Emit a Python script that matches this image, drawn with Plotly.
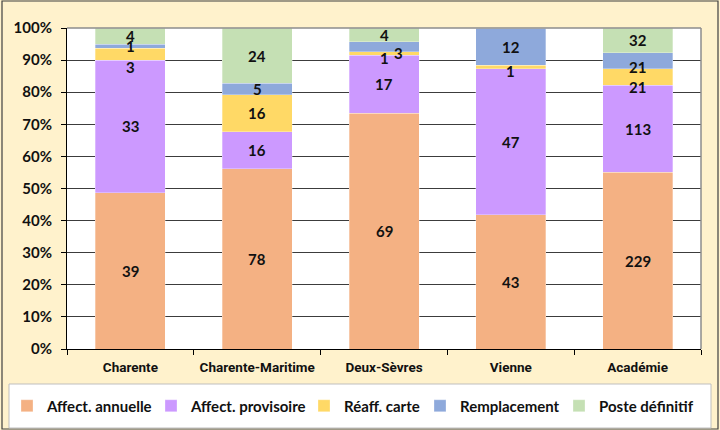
import numpy as np
import plotly.graph_objects as go

categories = ["Charente", "Charente-Maritime", "Deux-Sèvres", "Vienne", "Académie"]
series_names = ["Affect. annuelle", "Affect. provisoire", "Réaff. carte", "Remplacement", "Poste définitif"]
affect_annuelle = [39, 78, 69, 43, 229]
affect_provisoire = [33, 16, 17, 47, 113]
reaff_carte = [3, 16, 1, 1, 21]
remplacement = [1, 5, 3, 12, 21]
poste_definitif = [4, 24, 4, 0, 32]
y_ticks = [0, 10, 20, 30, 40, 50, 60, 70, 80, 90, 100]

colors = ["#F4B183", "#CC99FF", "#FFD966", "#8EA9DB", "#C5E0B4"]
# label pixel nudges (style only): (category index, series index) -> (xshift, yshift)
nudges = {(0, 2): (0, -13), (2, 2): (0, -4), (2, 3): (14, -6), (3, 2): (0, -4),
          (4, 2): (0, -10), (4, 3): (0, -6)}
# left pixel position of each legend entry's text (style only)
legend_text_px = [48, 192, 345, 461, 600]

values = [affect_annuelle, affect_provisoire, reaff_carte, remplacement, poste_definitif]
arr = np.array(values, dtype=float)
pct = arr / arr.sum(axis=0) * 100
cum = np.cumsum(pct, axis=0)

L, R, T, B = 67, 19, 28, 81
W, H = 720, 430
pw, ph = W - L - R, H - T - B


def px_x(x):
    return (x - L) / pw


def px_y(y):
    return (H - B - y) / ph


legend_font = dict(family="Lato, Carlito, sans-serif", size=15, color="#111", weight="bold")

fig = go.Figure()
legend_layouts = {}
for i, (name, vals, col) in enumerate(zip(series_names, values, colors)):
    lg = "legend" if i == 0 else f"legend{i + 1}"
    fig.add_trace(go.Bar(
        x=categories, y=vals, name=name, legend=lg,
        marker=dict(color=col, line=dict(color="rgba(255,255,255,0.6)", width=0.5)),
        hoverinfo="name+y",
    ))
    legend_layouts[lg] = dict(
        x=px_x(legend_text_px[i] - 41), xanchor="left", y=px_y(406), yanchor="middle",
        orientation="h", bgcolor="rgba(0,0,0,0)", borderwidth=0, itemwidth=30, font=legend_font,
    )

annotations = []
for s in range(len(values)):
    for c in range(len(categories)):
        v = values[s][c]
        if v <= 0:
            continue
        center = cum[s, c] - pct[s, c] / 2
        dx, dy = nudges.get((c, s), (0, 0))
        annotations.append(dict(
            x=categories[c], y=center, xref="x", yref="y", text=str(v),
            showarrow=False, xshift=dx, yshift=dy,
            font=dict(family="Lato, Carlito, sans-serif", size=15, color="#111", weight="bold"),
        ))

shapes = [
    dict(type="rect", xref="paper", yref="paper", x0=px_x(2), x1=px_x(718), y0=px_y(429), y1=px_y(1),
         line=dict(color="#404040", width=1.2), fillcolor="rgba(0,0,0,0)", layer="below"),
    dict(type="rect", xref="paper", yref="paper", x0=px_x(9), x1=px_x(711), y0=px_y(428), y1=px_y(384),
         line=dict(color="#BFBFBF", width=1), fillcolor="white", layer="below"),
    dict(type="line", xref="paper", yref="paper", x0=0, x1=1, y0=1, y1=1,
         line=dict(color="#8C8C8C", width=1.5)),
    dict(type="line", xref="paper", yref="paper", x0=1, x1=1, y0=0, y1=1,
         line=dict(color="#8C8C8C", width=1.5)),
]

fig.update_layout(
    width=W, height=H,
    margin=dict(l=L, r=R, t=T, b=B, pad=0, autoexpand=False),
    barmode="stack", barnorm="percent", bargap=0.448,
    paper_bgcolor="#FFF2CC", plot_bgcolor="white",
    showlegend=True,
    annotations=annotations,
    shapes=shapes,
    xaxis=dict(showline=True, linecolor="black", linewidth=1, ticks="outside", tickson="boundaries",
               ticklen=5, tickcolor="black", showgrid=False, ticklabelstandoff=6,
               tickfont=dict(family="Liberation Sans Narrow, Arial Narrow, Roboto, sans-serif", size=13.5,
                             color="#111", weight="bold")),
    yaxis=dict(range=[0, 100], tickvals=y_ticks, ticktext=[f"{t}%" for t in y_ticks],
               showline=True, linecolor="black", linewidth=1, ticks="outside", ticklen=5,
               tickcolor="black", ticklabelstandoff=6,
               showgrid=True, gridcolor="#3C3C3C", gridwidth=1, zeroline=False,
               tickfont=dict(family="Lato, Carlito, sans-serif", size=15, color="#111", weight="bold")),
    hovermode="closest",
)
fig.update_layout(**legend_layouts)

fig.write_html("out.html", config={"displayModeBar": False},
               post_script="document.body.style.margin='0';document.body.style.padding='0';")
